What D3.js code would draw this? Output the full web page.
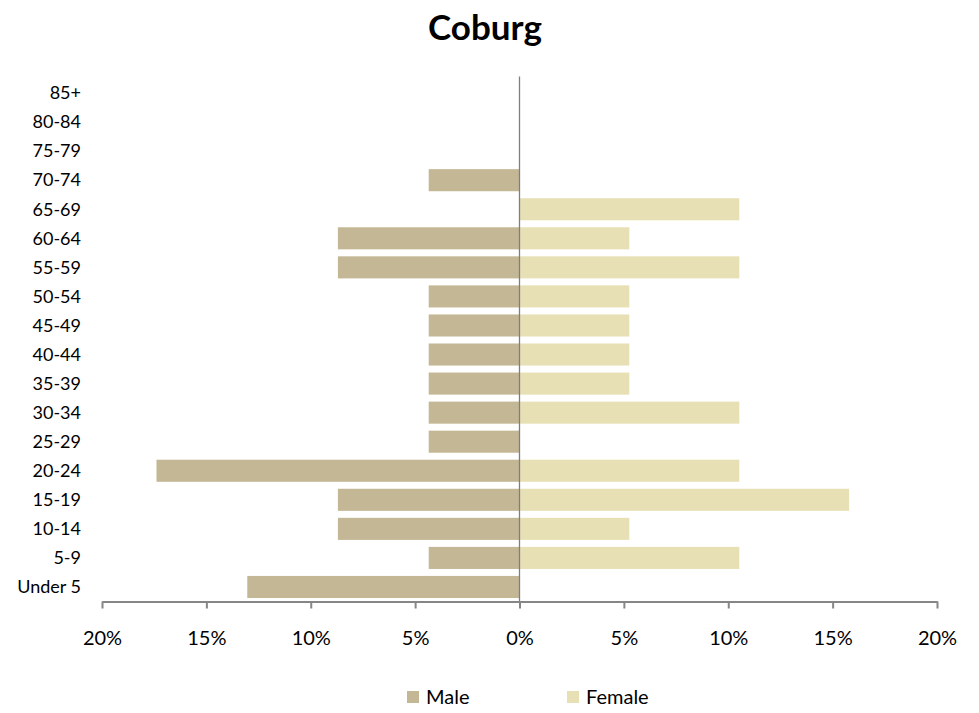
<!DOCTYPE html>
<html>
<head>
<meta charset="utf-8">
<script src="https://cdn.jsdelivr.net/npm/d3@7"></script>
<style>
body { margin: 0; background: #fff; }
text { font-family: Lato, "Open Sans", sans-serif; fill: #000; }
</style>
</head>
<body>
<div id="chart"></div>
<script>
// age groups, bottom to top
var ageGroups = ["Under 5","5-9","10-14","15-19","20-24","25-29","30-34","35-39","40-44",
  "45-49","50-54","55-59","60-64","65-69","70-74","75-79","80-84","85+"];
// percent of each sex
var malePct =   [13.04, 4.35, 8.70, 8.70, 17.39, 4.35, 4.35, 4.35, 4.35, 4.35, 4.35, 8.70, 8.70, 0, 4.35, 0, 0, 0];
var femalePct = [0, 10.53, 5.26, 15.79, 10.53, 0, 10.53, 5.26, 5.26, 5.26, 5.26, 10.53, 5.26, 10.53, 0, 0, 0, 0];
var xTicks = [-20, -15, -10, -5, 0, 5, 10, 15, 20];
var seriesNames = ["Male", "Female"];
var seriesColors = ["#c4b795", "#e8e0b5"];

var width = 979, height = 713;
var plotLeft = 102, plotRight = 937, plotTop = 78.5, plotBottom = 601.5;

var svg = d3.select("#chart").append("svg")
  .attr("width", width)
  .attr("height", height);

var x = d3.scaleLinear().domain([-20, 20]).range([plotLeft, plotRight]);
var y = d3.scaleBand().domain(ageGroups.slice().reverse()).range([plotTop, plotBottom])
  .paddingInner(0.24).paddingOuter(0.12);

/* title */
svg.append("text")
  .attr("x", 485).attr("y", 40)
  .attr("text-anchor", "middle")
  .style("font-size", "35px").style("font-weight", "bold")
  .text("Coburg");

/* bars */
svg.append("g").selectAll("rect")
  .data(ageGroups).enter().append("rect")
  .attr("x", (d, i) => x(-malePct[i]))
  .attr("y", d => y(d))
  .attr("width", (d, i) => x(0) - x(-malePct[i]))
  .attr("height", y.bandwidth())
  .attr("fill", seriesColors[0]);

svg.append("g").selectAll("rect")
  .data(ageGroups).enter().append("rect")
  .attr("x", x(0))
  .attr("y", d => y(d))
  .attr("width", (d, i) => x(femalePct[i]) - x(0))
  .attr("height", y.bandwidth())
  .attr("fill", seriesColors[1]);

/* category labels */
svg.append("g").selectAll("text")
  .data(ageGroups).enter().append("text")
  .attr("x", 81)
  .attr("y", d => y(d) + y.bandwidth() / 2)
  .attr("dy", "0.35em")
  .attr("text-anchor", "end")
  .style("font-size", "18px")
  .text(d => d);

/* centre line */
svg.append("line")
  .attr("x1", x(0)).attr("x2", x(0))
  .attr("y1", plotTop - 2).attr("y2", plotBottom)
  .attr("stroke", "#7f7f7f").attr("stroke-width", 1.3);

/* x axis */
var xAxis = d3.axisBottom(x).tickValues(xTicks).tickSize(7).tickSizeOuter(0)
  .tickFormat(d => Math.abs(d) + "%");
var gx = svg.append("g")
  .attr("transform", `translate(0, ${plotBottom})`)
  .call(xAxis);
gx.select(".domain").attr("stroke", "#868686").attr("stroke-width", 2);
gx.selectAll(".tick line").attr("stroke", "#868686").attr("stroke-width", 2);
gx.selectAll(".tick text")
  .attr("y", 29)
  .style("font-size", "20px")
  .style("font-family", "Lato, 'Open Sans', sans-serif")
  .attr("fill", "#000");

/* legend */
var legendX = [407, 567];
var legend = svg.append("g").selectAll("g")
  .data(seriesNames).enter().append("g")
  .attr("transform", (d, i) => `translate(${legendX[i]}, 697)`);
legend.append("rect")
  .attr("x", 0).attr("y", -6).attr("width", 12).attr("height", 12)
  .attr("fill", (d, i) => seriesColors[i]);
legend.append("text")
  .attr("x", 19).attr("dy", "0.35em")
  .style("font-size", "20px")
  .text(d => d);
</script>
</body>
</html>
